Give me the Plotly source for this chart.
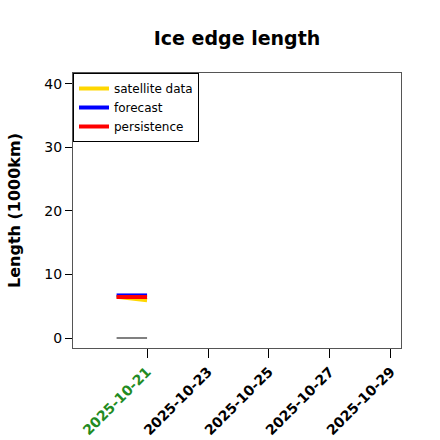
import plotly.graph_objects as go

dates = ["2025-10-20", "2025-10-21"]
satellite = [6.5, 5.95]
forecast = [6.7, 6.7]
persistence = [6.45, 6.45]
baseline = [0, 0]

tick_vals = ["2025-10-21", "2025-10-23", "2025-10-25", "2025-10-27", "2025-10-29"]
tick_colors = ["#228B22", "black", "black", "black", "black"]
y_ticks = [0, 10, 20, 30, 40]

fig = go.Figure()
fig.add_trace(go.Scatter(x=dates, y=baseline, mode="lines", line=dict(color="gray", width=2), showlegend=False))
fig.add_trace(go.Scatter(x=dates, y=satellite, mode="lines", name="satellite data", line=dict(color="#FFD700", width=4)))
fig.add_trace(go.Scatter(x=dates, y=forecast, mode="lines", name="forecast", line=dict(color="blue", width=4)))
fig.add_trace(go.Scatter(x=dates, y=persistence, mode="lines", name="persistence", line=dict(color="red", width=4)))

ticktext = [f'<span style="color:{c}"><b>{t}</b></span>' for t, c in zip(tick_vals, tick_colors)]

fig.update_layout(
    width=440, height=440,
    margin=dict(l=73, r=39, t=73, b=92),
    paper_bgcolor="white", plot_bgcolor="white",
    font=dict(family="DejaVu Sans", color="black", size=13),
    title=dict(text="<b>Ice edge length</b>", xref="paper", x=0.5, xanchor="center",
               yref="container", y=0.913, yanchor="middle", font=dict(size=19)),
    legend=dict(x=0, y=1, xanchor="left", yanchor="top", bordercolor="black", borderwidth=1,
                bgcolor="white", font=dict(size=12), itemwidth=30, tracegroupgap=0),
    showlegend=True,
)
fig.update_xaxes(type="date", range=["2025-10-18 13:40", "2025-10-29 08:00"],
                 tickvals=tick_vals, ticktext=ticktext, tickangle=-45, automargin=False,
                 ticks="outside", ticklen=9, tickcolor="black",
                 showline=True, linecolor="#555", mirror=True, showgrid=False, zeroline=False,
                 tickfont=dict(size=14))
fig.update_yaxes(range=[-1.57, 41.7], tickvals=y_ticks, ticks="outside", ticklen=7, tickcolor="black",
                 showline=True, linecolor="#555", mirror=True, showgrid=False, zeroline=False,
                 automargin=False,
                 title=dict(text="<b>Length (1000km)</b>", font=dict(size=16), standoff=19),
                 tickfont=dict(size=14))
fig.write_html("out.html", config={"displayModeBar": False},
               post_script="document.body.style.margin='0';")
